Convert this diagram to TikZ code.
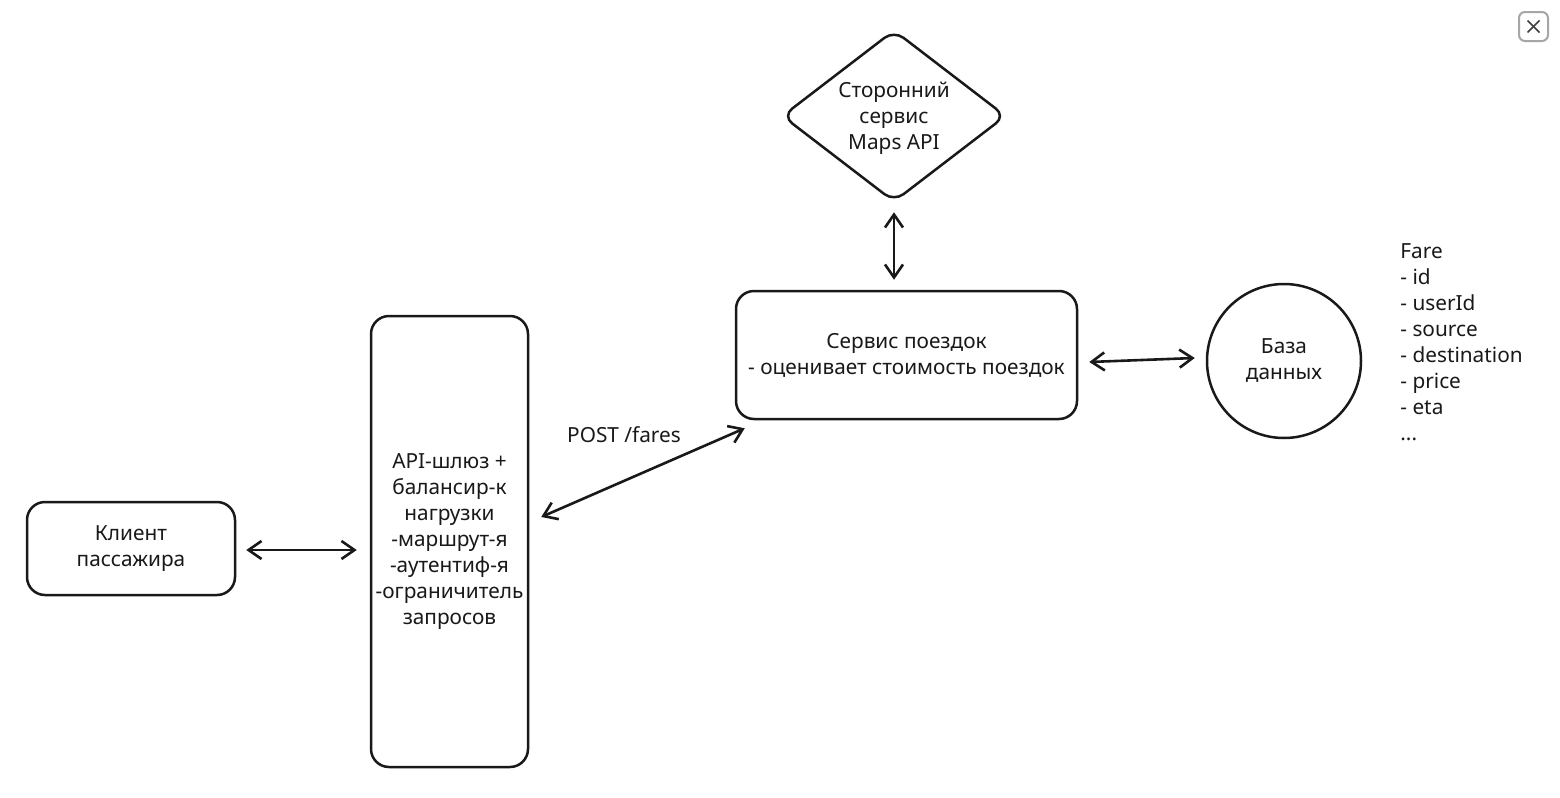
\documentclass[tikz,border=0pt]{standalone}
\usepackage{fontspec}
\setmainfont{Noto Sans}
\usetikzlibrary{shapes.geometric,arrows.meta,calc}
\begin{document}
\begin{tikzpicture}[x=0.5pt,y=-0.5pt,
  every node/.style={font=\fontsize{10.4}{13}\selectfont, text=black!90},
  box/.style={draw=black!90, line width=1.25pt, rounded corners=9pt, inner sep=0pt, align=center},
  dia/.style={draw=black!90, line width=1.25pt, shape=diamond, rounded corners=6pt, inner sep=0pt, minimum width=112pt, minimum height=86pt},
  db/.style={draw=black!90, line width=1.25pt, circle, inner sep=0pt, minimum size=77pt, align=center},
  txt/.style={align=center, inner sep=0pt},
  arr/.style={draw=black!90, line width=1.3pt, {Straight Barb[length=6.5pt,width=9pt]}-{Straight Barb[length=6.5pt,width=9pt]}}]
\useasboundingbox[fill=white] (0,0) rectangle (1560,798);

% nodes
\node[box, minimum width=104pt, minimum height=46.5pt] (client) at (131,548.5) {Клиент\\пассажира};
\node[box, minimum width=78.5pt, minimum height=225.5pt] (api) at (449.5,541.5) {API-шлюз +\\балансир-к\\нагрузки\\-маршрут-я\\-аутентиф-я\\-ограничитель\\запросов};
\node[box, minimum width=170.5pt, minimum height=64pt] (trip) at (906.5,355) {Сервис поездок\\- оценивает стоимость поездок};
\node[dia] (maps) at (894,116) {};
\node[txt] (mapstxt) at ($(maps.center)+(0,2)$) {Сторонний\\сервис\\Maps API};
\node[db] (base) at (1284,361) {База\\данных};
\node[anchor=north west, align=left, inner sep=0pt] (fare) at (1400,243) {Fare\\- id\\- userId\\- source\\- destination\\- price\\- eta\\...};

% connectors
\draw[arr] ($(client.east)+(10,1.5)$) -- ($(client.east -| api.west)+(-13,1.5)$);
\draw[arr] ($(api.east)+(12,-24.5)$) -- ($(trip.south west)+(10,8)$);
\node[inner sep=0pt] (post) at (624,435) {POST /fares};
\draw[arr] ($(trip.east)+(11,7)$) -- ($(base.west)+(-11,-3)$);
\draw[arr] ($(maps.south)+(0,9)$) -- ($(maps.south |- trip.north)+(0,-10)$);

% close button
\node[draw=black!35, line width=1pt, rounded corners=3pt, minimum size=14.5pt, inner sep=0pt] (close) at (1533.5,26.5) {};
\draw[black!75, line width=0.8pt] ($(close.center)+(-6,-6)$) -- ($(close.center)+(6,6)$);
\draw[black!75, line width=0.8pt] ($(close.center)+(-6,6)$) -- ($(close.center)+(6,-6)$);
\end{tikzpicture}
\end{document}
